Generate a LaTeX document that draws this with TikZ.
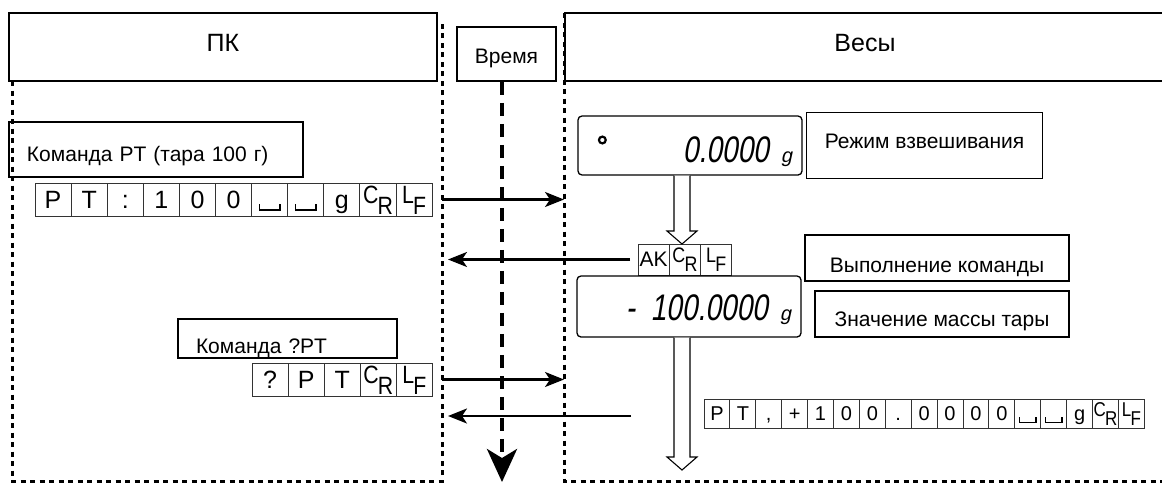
\documentclass[tikz,border=0pt]{standalone}
\usepackage{fontspec}
\setmainfont{Liberation Sans}
\newfontfamily\lcdfont[FakeSlant=0.22]{Liberation Sans}
\usetikzlibrary{positioning, arrows.meta, calc}

\newcommand{\CR}{\scalebox{.85}[1]{\raisebox{.2em}{C}\kern-.04em\raisebox{-.25em}{R}}}
\newcommand{\LF}{\scalebox{.85}[1]{\raisebox{.2em}{L}\kern-.04em\raisebox{-.25em}{F}}}
\newcommand{\spc}{\raisebox{-.12em}{\rule{.07em}{.3em}\rule{.75em}{.07em}\rule{.07em}{.3em}}}
\newcommand{\lcd}[1]{\scalebox{.76}[1]{\lcdfont\fontsize{37}{37}\selectfont #1}}
\newcommand{\lcdg}{{\lcdfont\fontsize{20}{20}\selectfont g}}
\newcommand{\fatarrow}[2]{%
  \draw[hollow] ($(#1)+(-8,0)$) -- ($(#2)+(-8,-13)$) -- ($(#2)+(-15,-13)$) -- (#2)
    -- ($(#2)+(15,-13)$) -- ($(#2)+(8,-13)$) -- ($(#1)+(8,0)$);}

\begin{document}
\begin{tikzpicture}[
    x=1pt, y=-1pt,
    head/.style={draw, line width=1.6pt, inner sep=0pt, font=\fontsize{25}{25}\selectfont},
    note/.style={draw, line width=1.8pt, inner sep=0pt, font=\fontsize{21}{24}\selectfont},
    cell/.style={draw=black!80, line width=1pt, inner sep=0pt, outer sep=0pt,
      minimum width=36.1pt, minimum height=33pt, text height=18pt, text depth=1pt,
      font=\fontsize{25}{25}\selectfont},
    small cell/.style={cell, minimum width=25.9pt, minimum height=29pt,
      text height=15pt, text depth=1pt, font=\fontsize{20}{20}\selectfont},
    ak cell/.style={cell, minimum width=31.3pt, minimum height=31pt,
      text height=15pt, text depth=1pt, font=\fontsize{21}{21}\selectfont},
    display/.style={draw, line width=1.3pt, rounded corners=4pt, inner ysep=0pt,
      inner xsep=10pt, text width=204pt, align=right},
    hollow/.style={draw, line width=1.1pt, fill=white},
    frame/.style={line width=3pt, dash pattern=on 5pt off 4.5pt},
    timeline/.style={line width=4pt, dash pattern=on 13pt off 8pt,
      -{Stealth[length=33pt, width=30pt, inset=9pt]}},
    msg/.style={line width=2.1pt, -{Stealth[length=19pt, width=15pt, inset=5pt]}}
  ]
  \useasboundingbox (0,0) rectangle (1162,483);
  \clip (0,0) rectangle (1162,483);

  % columns
  \draw[frame] (12,81) -- (12,481) -- (442,481) -- (442,20);
  \draw[frame] (564,13) -- (564,481) -- (1172,481);
  \coordinate (pcR) at (442,0);
  \coordinate (scL) at (564,0);

  \node[head, minimum width=428pt, text height=38pt, text depth=30pt] (pc) at (223,47) {ПК};
  \node[head, minimum width=600pt, text height=38pt, text depth=30pt] (scale) at (865,47) {Весы};
  \node[head, minimum width=99pt, text height=36pt, text depth=18pt,
    font=\fontsize{21}{21}\selectfont] (time) at (506.5,54) {Время};

  % time axis
  \coordinate (tend) at (502,482);
  \draw[timeline] (time.south -| tend) -- (tend);

  % PC side
  \node[note, text width=258pt, inner xsep=18pt, align=left, text height=39pt, text depth=16pt]
    (cmdpt) at (156,149.5) {Команда PT (тара 100 г)};
  \node[cell, anchor=north west] (a1) at (35,183) {P};
  \foreach \t [count=\i from 2, remember=\i as \j (initially 1)] in
      {T, :, 1, 0, 0, \spc, \spc, g, \CR, \LF}
    \node[cell, right=0pt of a\j] (a\i) {\t};

  \node[note, text width=183pt, inner xsep=18pt, align=left, text height=34pt, text depth=5pt]
    (cmdq) at (287.5,338.5) {Команда ?PT};
  \node[cell, anchor=north west] (q1) at (252,363) {?};
  \foreach \t [count=\i from 2, remember=\i as \j (initially 1)] in {P, T, \CR, \LF}
    \node[cell, right=0pt of q\j] (q\i) {\t};

  % balance side
  \node[display, text height=46pt, text depth=13pt] (disp1) at (690,145.5)
    {\lcd{0.0000}\hspace{12pt}\lcdg};
  \draw[line width=2.2pt] ($(disp1.west)+(25,-5.5)$) circle (3.4pt);
  \node[note, minimum width=236pt, text height=36pt, text depth=30pt, right=3pt of disp1]
    (mode) {Режим взвешивания};

  \node[ak cell, anchor=north west] (ak1) at (638,244) {AK};
  \node[ak cell, right=0pt of ak1] (ak2) {\CR};
  \node[ak cell, right=0pt of ak2] (ak3) {\LF};
  \node[note, minimum width=264pt, text height=37pt, text depth=9pt] (exec) at (937,258)
    {Выполнение команды};

  \node[display, text height=44pt, text depth=17pt] (disp2) at (689,306.5)
    {\lcd{-\hspace{.55em}100.0000}\hspace{12pt}\lcdg};
  \node[note, minimum width=254pt, text height=35pt, text depth=11pt] (tare) at (942,314)
    {Значение массы тары};

  \node[small cell, anchor=north west] (r1) at (704,399) {P};
  \foreach \t [count=\i from 2, remember=\i as \j (initially 1)] in
      {T, {,}, +, 1, 0, 0, {.}, 0, 0, 0, 0, \spc, \spc, g, \CR, \LF}
    \node[small cell, right=0pt of r\j] (r\i) {\t};

  \coordinate (wend) at (682,470);
  \fatarrow{disp1.south -| wend}{ak2.north -| wend}
  \fatarrow{disp2.south -| wend}{wend}

  % messages
  \coordinate (ret) at (631,416);
  \draw[msg] (a11.east -| pcR) -- (a11.east -| scL);
  \draw[msg] ([xshift=-8pt]ak1.west) -- ([xshift=6pt]ak1.west -| pcR);
  \draw[msg] (q5.east -| pcR) -- (q5.east -| scL);
  \draw[msg] (ret) -- ([xshift=6pt]ret -| pcR);
\end{tikzpicture}
\end{document}
